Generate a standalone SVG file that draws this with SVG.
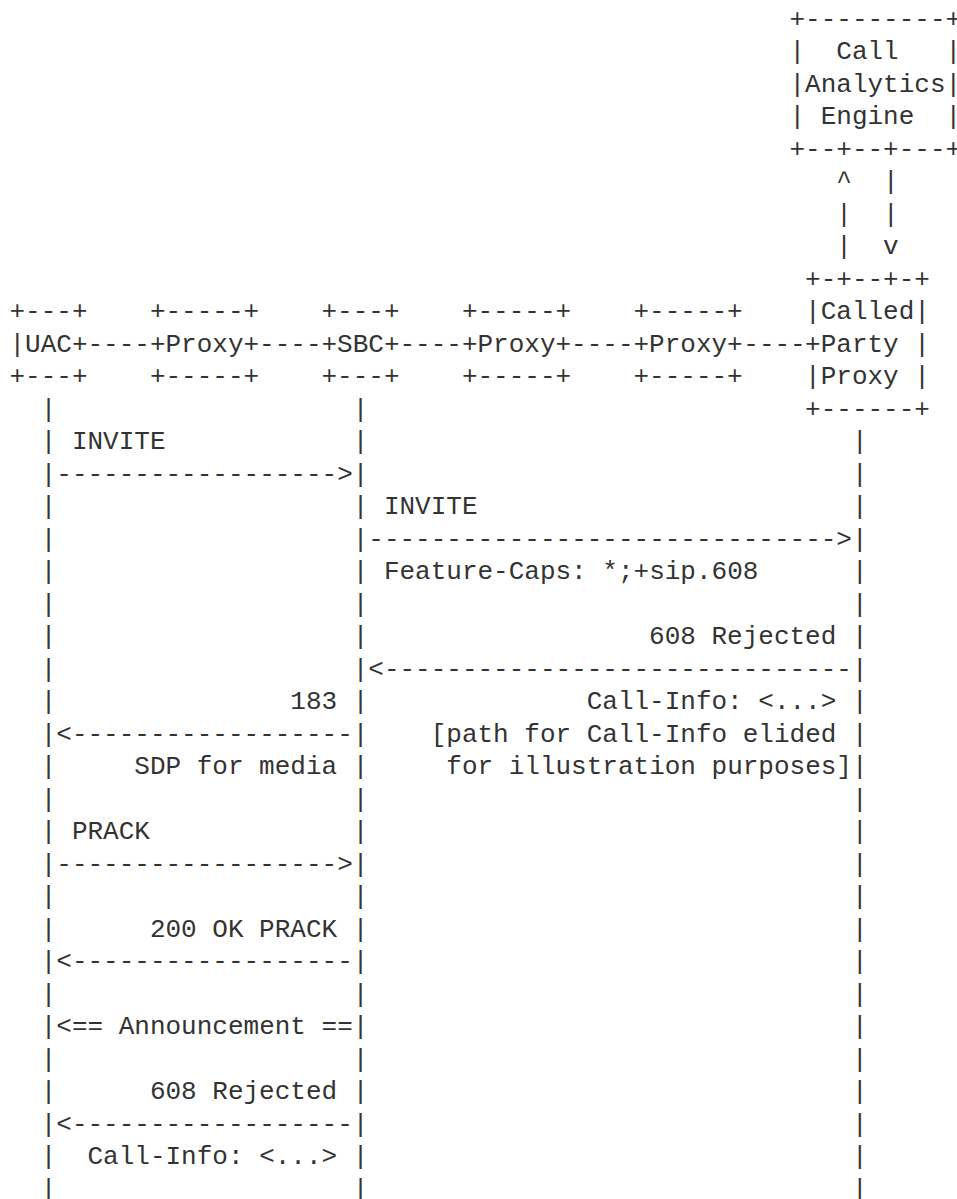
<svg xmlns="http://www.w3.org/2000/svg" width="957" height="1199" viewBox="0 0 957 1199">
<style>
.t{font-family:"Liberation Mono","DejaVu Sans Mono",monospace;font-size:26px;fill:#333}
</style>
<rect width="957" height="1199" fill="#fff"/>
<g id="call-analytics-engine" class="t">
<text x="789.5" y="26.8">+---------+</text>
<text x="789.5" y="59.3">|</text><text x="836.3" y="59.3">Call</text><text x="945.5" y="59.3">|</text>
<text x="789.5" y="91.8">|Analytics|</text>
<text x="789.5" y="124.3">|</text><text x="820.7" y="124.3">Engine</text><text x="945.5" y="124.3">|</text>
<text x="789.5" y="156.8">+--+--+---+</text>
</g>
<g id="called-party-proxy" class="t">
<text x="805.1" y="286.8">+-+--+-+</text>
<text x="805.1" y="319.3">|Called|</text>
<text x="805.1" y="351.8">+Party</text><text x="914.3" y="351.8">|</text>
<text x="805.1" y="384.3">|Proxy</text><text x="914.3" y="384.3">|</text>
<text x="805.1" y="416.8">+------+</text>
</g>
<g id="uac" class="t">
<text x="9.5" y="319.3">+---+</text>
<text x="9.5" y="351.8">|UAC+</text>
<text x="9.5" y="384.3">+---+</text>
</g>
<g id="proxy-1" class="t">
<text x="149.9" y="319.3">+-----+</text>
<text x="149.9" y="351.8">+Proxy+</text>
<text x="149.9" y="384.3">+-----+</text>
</g>
<g id="sbc" class="t">
<text x="321.5" y="319.3">+---+</text>
<text x="321.5" y="351.8">+SBC+</text>
<text x="321.5" y="384.3">+---+</text>
</g>
<g id="proxy-2" class="t">
<text x="461.9" y="319.3">+-----+</text>
<text x="461.9" y="351.8">+Proxy+</text>
<text x="461.9" y="384.3">+-----+</text>
</g>
<g id="proxy-3" class="t">
<text x="633.5" y="319.3">+-----+</text>
<text x="633.5" y="351.8">+Proxy+</text>
<text x="633.5" y="384.3">+-----+</text>
</g>
<g id="connectors" class="t">
<text x="836.3" y="189.3">^</text><text x="883.1" y="189.3">|</text>
<text x="836.3" y="221.8">|</text><text x="883.1" y="221.8">|</text>
<text x="836.3" y="254.3">|</text><text x="883.1" y="254.3">v</text>
<text x="87.5" y="351.8">----</text>
<text x="259.1" y="351.8">----</text>
<text x="399.5" y="351.8">----</text>
<text x="571.1" y="351.8">----</text>
<text x="743.3" y="351.8">----</text>
<text id="lifeline-uac"><tspan x="40.7" y="416.8">|</tspan><tspan x="40.7" y="449.3">|</tspan><tspan x="40.7" y="481.8">|</tspan><tspan x="40.7" y="514.3">|</tspan><tspan x="40.7" y="546.8">|</tspan><tspan x="40.7" y="579.3">|</tspan><tspan x="40.7" y="611.8">|</tspan><tspan x="40.7" y="644.3">|</tspan><tspan x="40.7" y="676.8">|</tspan><tspan x="40.7" y="709.3">|</tspan><tspan x="40.7" y="741.8">|</tspan><tspan x="40.7" y="774.3">|</tspan><tspan x="40.7" y="806.8">|</tspan><tspan x="40.7" y="839.3">|</tspan><tspan x="40.7" y="871.8">|</tspan><tspan x="40.7" y="904.3">|</tspan><tspan x="40.7" y="936.8">|</tspan><tspan x="40.7" y="969.3">|</tspan><tspan x="40.7" y="1001.8">|</tspan><tspan x="40.7" y="1034.3">|</tspan><tspan x="40.7" y="1066.8">|</tspan><tspan x="40.7" y="1099.3">|</tspan><tspan x="40.7" y="1131.8">|</tspan><tspan x="40.7" y="1164.3">|</tspan><tspan x="40.7" y="1196.8">|</tspan></text>
<text id="lifeline-sbc"><tspan x="352.7" y="416.8">|</tspan><tspan x="352.7" y="449.3">|</tspan><tspan x="352.7" y="481.8">|</tspan><tspan x="352.7" y="514.3">|</tspan><tspan x="352.7" y="546.8">|</tspan><tspan x="352.7" y="579.3">|</tspan><tspan x="352.7" y="611.8">|</tspan><tspan x="352.7" y="644.3">|</tspan><tspan x="352.7" y="676.8">|</tspan><tspan x="352.7" y="709.3">|</tspan><tspan x="352.7" y="741.8">|</tspan><tspan x="352.7" y="774.3">|</tspan><tspan x="352.7" y="806.8">|</tspan><tspan x="352.7" y="839.3">|</tspan><tspan x="352.7" y="871.8">|</tspan><tspan x="352.7" y="904.3">|</tspan><tspan x="352.7" y="936.8">|</tspan><tspan x="352.7" y="969.3">|</tspan><tspan x="352.7" y="1001.8">|</tspan><tspan x="352.7" y="1034.3">|</tspan><tspan x="352.7" y="1066.8">|</tspan><tspan x="352.7" y="1099.3">|</tspan><tspan x="352.7" y="1131.8">|</tspan><tspan x="352.7" y="1164.3">|</tspan><tspan x="352.7" y="1196.8">|</tspan></text>
<text id="lifeline-called"><tspan x="851.9" y="449.3">|</tspan><tspan x="851.9" y="481.8">|</tspan><tspan x="851.9" y="514.3">|</tspan><tspan x="851.9" y="546.8">|</tspan><tspan x="851.9" y="579.3">|</tspan><tspan x="851.9" y="611.8">|</tspan><tspan x="851.9" y="644.3">|</tspan><tspan x="851.9" y="676.8">|</tspan><tspan x="851.9" y="709.3">|</tspan><tspan x="851.9" y="741.8">|</tspan><tspan x="851.9" y="774.3">|</tspan><tspan x="851.9" y="806.8">|</tspan><tspan x="851.9" y="839.3">|</tspan><tspan x="851.9" y="871.8">|</tspan><tspan x="851.9" y="904.3">|</tspan><tspan x="851.9" y="936.8">|</tspan><tspan x="851.9" y="969.3">|</tspan><tspan x="851.9" y="1001.8">|</tspan><tspan x="851.9" y="1034.3">|</tspan><tspan x="851.9" y="1066.8">|</tspan><tspan x="851.9" y="1099.3">|</tspan><tspan x="851.9" y="1131.8">|</tspan><tspan x="851.9" y="1164.3">|</tspan><tspan x="851.9" y="1196.8">|</tspan></text>
<text x="71.9" y="449.3">INVITE</text>
<text x="56.3" y="481.8">------------------&gt;</text>
<text x="383.9" y="514.3">INVITE</text>
<text x="368.3" y="546.8">------------------------------&gt;</text>
<text x="383.9" y="579.3">Feature-Caps: *;+sip.608</text>
<text x="649.1" y="644.3">608 Rejected</text>
<text x="368.3" y="676.8">&lt;------------------------------</text>
<text x="290.3" y="709.3">183</text>
<text x="586.7" y="709.3">Call-Info: &lt;...&gt;</text>
<text x="56.3" y="741.8">&lt;------------------</text>
<text x="430.7" y="741.8">[path for Call-Info elided</text>
<text x="134.3" y="774.3">SDP for media</text>
<text x="446.3" y="774.3">for illustration purposes]</text>
<text x="71.9" y="839.3">PRACK</text>
<text x="56.3" y="871.8">------------------&gt;</text>
<text x="149.9" y="936.8">200 OK PRACK</text>
<text x="56.3" y="969.3">&lt;------------------</text>
<text x="56.3" y="1034.3">&lt;== Announcement ==</text>
<text x="149.9" y="1099.3">608 Rejected</text>
<text x="56.3" y="1131.8">&lt;------------------</text>
<text x="87.5" y="1164.3">Call-Info: &lt;...&gt;</text>
</g>
</svg>
